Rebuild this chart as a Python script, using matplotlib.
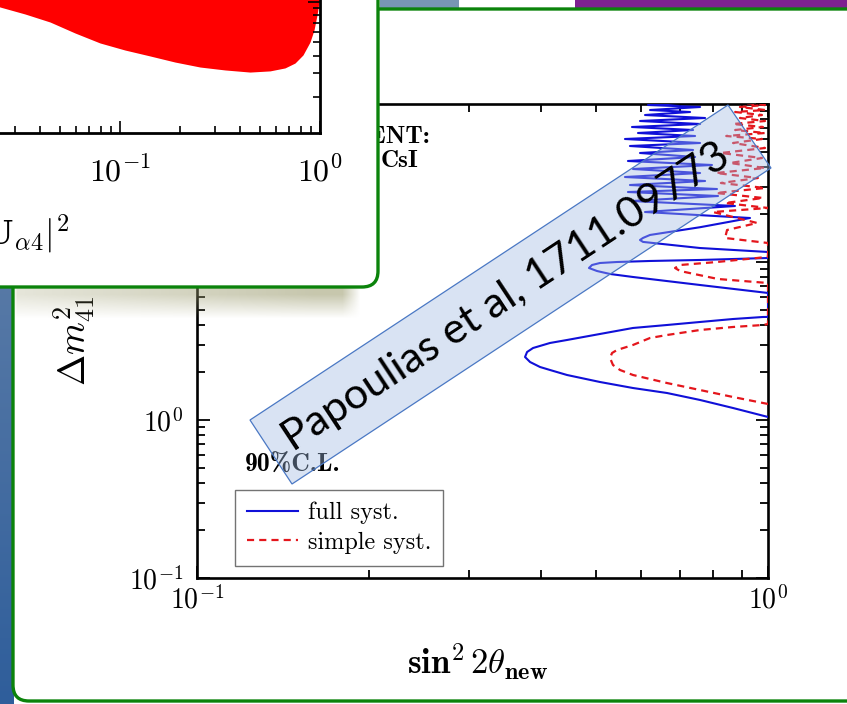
import numpy as np
import matplotlib
matplotlib.use("Agg")
import matplotlib.pyplot as plt
from matplotlib.patches import FancyBboxPatch, Rectangle, Polygon
from matplotlib.colors import LinearSegmentedColormap
from matplotlib.ticker import NullFormatter

plt.rcParams['mathtext.fontset'] = 'cm'
plt.rcParams['font.family'] = 'DejaVu Serif'
plt.rcParams['axes.unicode_minus'] = False

W, H = 847, 704

# 90% C.L. exclusion contour, full systematics (sin^2 2theta, dm2_41 [eV^2])
full_sin2 = [1.0, 0.8685, 0.7602, 0.6655, 0.5801, 0.5078, 0.4446, 0.4151, 0.3988, 0.3831,
             0.3754, 0.3785, 0.3877, 0.4151, 0.4446, 0.5078, 0.5801, 0.6655, 0.7602, 0.8685,
             0.9800, 1.0,
             1.0, 0.7602, 0.5801, 0.5288, 0.5018, 0.4858, 0.4918, 0.5078, 0.5439, 0.6214,
             0.7602, 1.0,
             1.0, 0.7602, 0.6041, 0.5968, 0.6041, 0.6214, 0.7602, 0.9300,
             0.6090, 0.8753, 0.5778, 0.8174, 0.5685, 0.8141, 0.5731, 0.7759, 0.5617, 0.7604,
             0.5801, 0.7978, 0.5685, 0.7452, 0.5968, 0.7392, 0.5731, 0.7604, 0.5617, 0.7452,
             0.5920, 0.7392, 0.5778, 0.7604, 0.5968, 0.7759, 0.6090, 0.7303, 0.6214, 0.7604,
             0.6164, 0.7014]
full_dm2 = [1.045, 1.191, 1.339, 1.482, 1.594, 1.740, 1.927, 2.073, 2.165, 2.328,
            2.505, 2.694, 2.855, 3.072, 3.209, 3.503, 3.823, 3.993, 4.172, 4.357,
            4.487, 4.49,
            6.366, 7.152, 8.038, 8.398, 8.770, 9.162, 9.572, 9.855, 10.0, 10.15,
            10.30, 10.60,
            11.57, 12.26, 13.4, 13.78, 14.2, 14.83, 16.6, 18.99,
            20.72, 22.62, 24.32, 26.16, 27.73, 28.97, 30.71, 32.56, 34.51, 36.58,
            38.78, 41.11, 43.58, 46.19, 48.97, 51.16, 54.22, 56.65, 60.05, 62.73,
            65.54, 68.46, 71.52, 74.72, 78.06, 81.54, 85.18, 88.99, 91.62, 95.72,
            98.55, 101.5]

# 90% C.L. exclusion contour, simple systematics
simple_sin2 = [1.0, 0.8685, 0.7602, 0.6655, 0.5801, 0.5506, 0.5352, 0.5288, 0.5332, 0.5439,
               0.5801, 0.6214, 0.6655, 0.7602, 0.8685, 0.9800, 1.0,
               1.0, 0.8174, 0.7014, 0.6874, 0.7014, 0.8141, 0.957, 1.0,
               1.0, 0.841, 0.8478, 0.957, 0.801, 1.0,
               0.841, 0.980, 0.811, 0.988, 0.827, 0.960, 0.811, 0.988, 0.858, 0.976,
               0.827, 0.988, 0.8685, 0.976, 0.845, 0.988, 0.876, 0.980, 0.8685, 0.988,
               0.893, 0.976, 0.876, 0.988, 0.893, 0.988, 0.91]
simple_dm2 = [1.263, 1.398, 1.548, 1.714, 1.927, 2.073, 2.229, 2.469, 2.655, 2.773,
              2.984, 3.304, 3.451, 3.712, 3.879, 3.993, 4.052,
              7.363, 7.806, 8.77, 9.162, 9.572, 10.0, 10.6, 10.8,
              13.19, 14.19, 15.94, 17.66, 20.72, 21.97,
              23.62, 25.42, 27.34, 29.40, 31.62, 34.01, 36.58, 39.35, 42.32, 45.51,
              48.97, 52.67, 56.65, 60.05, 62.73, 65.54, 68.46, 71.52, 74.72, 78.06,
              81.54, 85.18, 88.99, 91.62, 95.72, 98.55, 101.5]

# inset: lower edge of the allowed region (|U_a4|^2, dm2)
inset_u2 = [0.00631, 0.0126, 0.0251, 0.0335, 0.0447, 0.0596, 0.0794, 0.1059, 0.1413, 0.1884,
            0.2512, 0.3350, 0.4467, 0.5623, 0.6683, 0.7499, 0.8222, 0.8913, 0.9333, 0.9661,
            0.9886, 0.999, 1.0]
inset_dm2 = [28.3, 14.4, 9.12, 8.10, 7.07, 5.87, 4.96, 4.40, 3.98, 3.59,
             3.30, 3.14, 3.03, 3.09, 3.25, 3.53, 4.05, 5.04, 6.18, 7.96,
             9.92, 100.0, 1080.0]

x_ticks = [0.1, 1.0]
x_ticklabels = [r'$10^{-1}$', r'$10^{0}$']
y_ticks = [0.1, 1.0, 10.0, 100.0]
y_ticklabels = [r'$10^{-1}$', r'$10^{0}$', r'$10^{1}$', r'$10^{2}$']
inset_x_ticks = [1e-3, 1e-2, 1e-1, 1.0]
inset_x_ticklabels = [r'$10^{-3}$', r'$10^{-2}$', r'$10^{-1}$', r'$10^{0}$']

GREEN = '#0b830b'
BLUE = '#1010d8'
RED = '#e4161c'

fig = plt.figure(figsize=(W / 100, H / 100), dpi=100)
fig.patch.set_facecolor('white')


def pixel_axes(z):
    a = fig.add_axes([0, 0, 1, 1], zorder=z)
    a.set_xlim(0, W)
    a.set_ylim(H, 0)
    a.axis('off')
    a.patch.set_alpha(0)
    return a


def px_box(l, t, r, b):
    return [l / W, 1 - b / H, (r - l) / W, (b - t) / H]


# ---- slide background ----
bg = pixel_axes(0)
strip = LinearSegmentedColormap.from_list('strip', ['#5a7ba7', '#2f5e9b'])
bg.imshow(np.linspace(0, 1, 100)[:, None], cmap=strip, extent=(0, 14, H, 250),
          aspect='auto', interpolation='bilinear')
bg.add_patch(Rectangle((380, 0), 79, 8, fc='#7896b4', ec='none'))
bg.add_patch(Rectangle((575, 0), 272, 8, fc='#7e2190', ec='none'))
bg.add_patch(FancyBboxPatch((13, 9), 1000, 692, boxstyle='round,pad=0,rounding_size=16',
                            fc='white', ec=GREEN, lw=2.4))

# ---- main plot ----
ax = fig.add_axes(px_box(197, 104, 768, 578), zorder=1)
ax.set_xscale('log')
ax.set_yscale('log')
ax.plot(full_sin2, full_dm2, color=BLUE, lw=1.5, zorder=3, label='full syst.')
ax.plot(simple_sin2, simple_dm2, color=RED, lw=1.6, ls=(0, (3.2, 2.3)), zorder=3.1,
        label='simple syst.')
ax.set_xlim(0.1, 1.0)
ax.set_ylim(0.1, 100.0)
ax.set_xticks(x_ticks, x_ticklabels)
ax.set_yticks(y_ticks, y_ticklabels)
ax.xaxis.set_minor_formatter(NullFormatter())
ax.yaxis.set_minor_formatter(NullFormatter())
ax.tick_params(which='both', direction='in', top=True, right=True, width=1.3, labelsize=20)
ax.tick_params(which='major', length=9)
ax.tick_params(which='minor', length=5.5)
ax.tick_params(axis='x', pad=6)
ax.tick_params(axis='y', pad=10)
for s in ax.spines.values():
    s.set_linewidth(1.9)

ax.set_xlabel(r'$\mathbf{sin}^{\mathbf{2}}\,\mathbf{2}\theta_{\mathbf{new}}$', fontsize=25)
ax.xaxis.set_label_coords(0.492, -0.135)
ax.set_ylabel(r'$\mathbf{\Delta} m^{\mathbf{2}}_{\mathbf{41}}$', fontsize=27)
ax.yaxis.set_label_coords(-0.173, 0.5)

ax.text(0.408, 0.918, 'COHERENT:', transform=ax.transAxes, family='cmb10', fontsize=18,
        ha='right', va='baseline')
ax.text(0.322, 0.867, 'CsI', transform=ax.transAxes, family='cmb10', fontsize=18,
        ha='left', va='baseline')
ax.text(0.084, 0.224, '90%C.L.', transform=ax.transAxes, family='cmb10', fontsize=18.5,
        ha='left', va='baseline')

leg = ax.legend(loc='lower left', bbox_to_anchor=(0.0666, 0.0253), borderaxespad=0,
                prop={'family': 'cmr10', 'size': 17.5}, fancybox=False, edgecolor='0.45',
                framealpha=1, handlelength=2.1, borderpad=0.5, labelspacing=0.3,
                handletextpad=0.4)
leg.get_frame().set_linewidth(1.0)

# ---- inset panel with shadow ----
over = pixel_axes(2)
X, Y = np.meshgrid(np.arange(0, 400), np.arange(270, 330))
shade = (np.clip((360 - X) / 18, 0, 1) * (0.45 + 0.55 * np.clip((X - 13) / 300, 0, 1))
         * np.clip((X - 13) / 4, 0, 1) * np.clip((318 - Y) / 24, 0, 1))
rgba = np.zeros(X.shape + (4,))
rgba[..., 0] = 0.60
rgba[..., 1] = 0.60
rgba[..., 2] = 0.42
rgba[..., 3] = 0.55 * shade
over.imshow(rgba, extent=(0, 400, 330, 270), aspect='auto', interpolation='bilinear')
over.add_patch(FancyBboxPatch((-60, -60), 438, 347, boxstyle='round,pad=0,rounding_size=16',
                              fc='white', ec=GREEN, lw=2.4))

ins = fig.add_axes(px_box(-280, -275, 320, 133), zorder=3)
ins.patch.set_alpha(0)
ins.set_xscale('log')
ins.set_yscale('log')
ins.set_xlim(1e-3, 1.0)
ins.set_ylim(1.08, 1080.0)
ins.fill_between(inset_u2, inset_dm2, ins.get_ylim()[1], color='#ff0000', lw=0)
ins.set_xticks(inset_x_ticks, inset_x_ticklabels)
ins.xaxis.set_minor_formatter(NullFormatter())
ins.yaxis.set_major_formatter(NullFormatter())
ins.yaxis.set_minor_formatter(NullFormatter())
ins.tick_params(which='both', direction='in', top=True, right=True, width=1.2, labelsize=23,
                labelleft=False)
ins.tick_params(which='major', length=9, pad=17)
ins.tick_params(which='minor', length=5)
for s in ins.spines.values():
    s.set_linewidth(2.0)
ins.set_xlabel(r'$\mathbf{|U_{\alpha 4}|^2}$', fontsize=25)
ins.xaxis.set_label_coords(0.505, -0.195)

# ---- reference stamp ----
top = pixel_axes(5)
corners = [(250, 420), (728, 105), (771, 168), (292, 484)]
top.add_patch(Polygon(corners, closed=True, fc='#a0bbe3', ec='none', alpha=0.4))
top.add_patch(Polygon(corners, closed=True, fc='none', ec='#4a78c4', lw=0.9))
top.text(506, 297, 'Papoulias et al, 1711.09773', family='Lato', fontsize=31,
         rotation=33.4, rotation_mode='anchor', ha='center', va='center', color='black')

fig.savefig('out.png', dpi=100)
